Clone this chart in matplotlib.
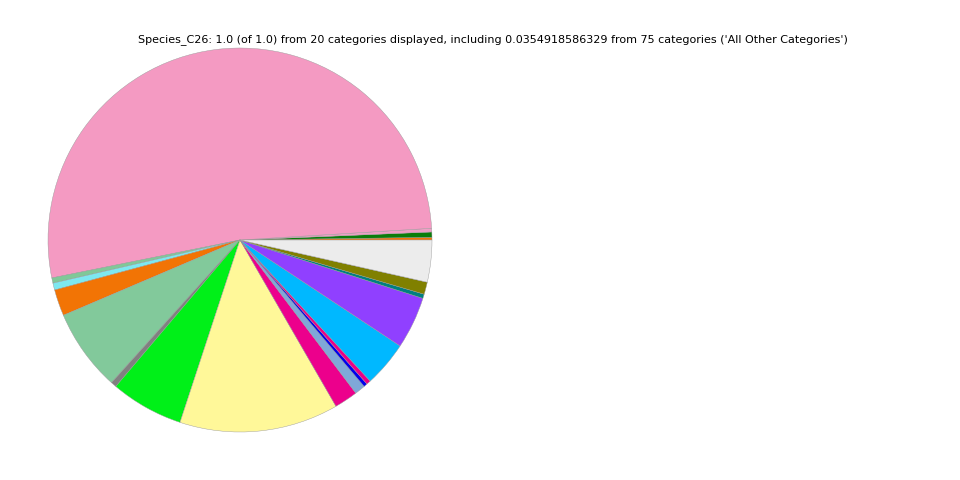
import matplotlib
matplotlib.use('Agg')
import matplotlib.pyplot as plt

# slice sizes in degrees, counterclockwise from 3 o'clock
degrees = [0.8, 1.6, 1.1, 187.9, 1.6, 2.1, 8.0, 24.9, 1.7, 22.1,
           48.2, 7.1, 3.2, 1.1, 1.3, 13.8, 15.8, 1.3, 3.7, 12.7]
fractions = [d / 360.0 for d in degrees]

colors = ['#f27405', '#0a7d0a', '#ee9fc5', '#f49ac2', '#80c898',
          '#7de8f0', '#f27405', '#82c99b', '#808080', '#00f018',
          '#fff899', '#ec008c', '#7fa8d8', '#0000ee', '#ec0088',
          '#00b8ff', '#9040ff', '#008080', '#808000', '#ececec']

title = ("Species_C26: 1.0 (of 1.0) from 20 categories displayed, including "
         "0.0354918586329 from 75 categories ('All Other Categories')")

fig = plt.figure(figsize=(9.6, 4.8), dpi=100)
ax = fig.add_axes([0.05, 0.1, 0.4, 0.8])
ax.pie(fractions, colors=colors, startangle=0, counterclock=True,
       wedgeprops={'edgecolor': '#999999', 'linewidth': 0.3})
ax.set_xlim(-1, 1)
ax.set_ylim(-1, 1)
ax.set_aspect('equal')
ax.axis('off')

fig.text(0.513, 0.917, title, ha='center', va='center', fontsize=8)

fig.savefig('out.png', dpi=100)
